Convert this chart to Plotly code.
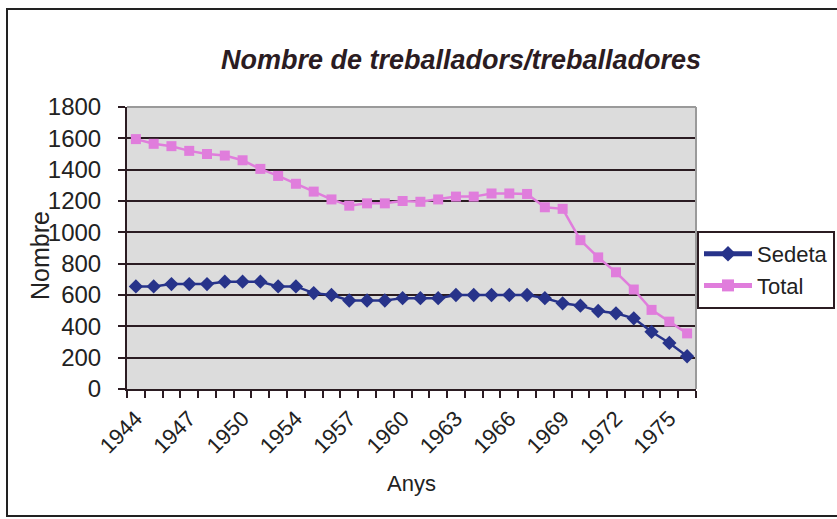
import plotly.graph_objects as go

years = ["1944", "1945", "1946", "1947", "1948", "1949", "1950", "1951",
         "1953", "1954", "1955", "1956", "1957", "1958", "1959", "1960",
         "1961", "1962", "1963", "1964", "1965", "1966", "1967", "1968",
         "1969", "1970", "1971", "1972", "1973", "1974", "1975", "1976"]
label_years = ["1944", "1947", "1950", "1954", "1957", "1960", "1963",
               "1966", "1969", "1972", "1975"]
sedeta = [655, 655, 670, 670, 670, 685, 685, 685, 655, 655, 612, 600,
          565, 565, 565, 580, 580, 580, 600, 600, 600, 600, 600, 580,
          547, 532, 498, 483, 451, 365, 294, 209]
total = [1595, 1565, 1550, 1520, 1500, 1490, 1460, 1405, 1360, 1310, 1260,
         1210, 1170, 1185, 1185, 1200, 1195, 1210, 1228, 1228, 1248, 1248,
         1245, 1160, 1150, 950, 840, 745, 635, 505, 430, 355]

idx = list(range(len(years)))
tick_idx = [years.index(y) for y in label_years]

FONT = "Liberation Sans, Arial, sans-serif"
DARK = "#2b1c22"
TXT = "#222222"

fig = go.Figure()
fig.add_trace(go.Scatter(
    x=idx, y=sedeta, name="Sedeta", mode="lines+markers",
    line=dict(color="#27338a", width=2.5),
    marker=dict(symbol="diamond", size=11, color="#27338a"),
))
fig.add_trace(go.Scatter(
    x=idx, y=total, name="Total", mode="lines+markers",
    line=dict(color="#e07ddc", width=2.5),
    marker=dict(symbol="square", size=10, color="#e07ddc"),
))

W, H = 837, 519
L, R, T, B = 127, 696, 107, 389
pw, ph = R - L, B - T


def px(x):
    return (x - L) / pw


def py(y):
    return (B - y) / ph


fig.update_layout(
    width=W, height=H,
    margin=dict(l=L, r=W - R, t=T, b=H - B, autoexpand=False),
    paper_bgcolor="white",
    plot_bgcolor="#dcdcdc",
    font=dict(family=FONT, color=TXT),
    title=dict(
        text="<b><i>Nombre de treballadors/treballadores</i></b>",
        x=461 / W, xanchor="center", y=1 - 60 / H, yanchor="middle",
        font=dict(size=27, color=DARK, family=FONT),
    ),
    xaxis=dict(
        range=[-0.5, len(years) - 0.5],
        tickvals=tick_idx, ticktext=label_years, tickangle=-45,
        ticks="", showgrid=False, zeroline=False,
        showline=True, linecolor=DARK, linewidth=2,
        tickfont=dict(size=22, color=TXT),
        ticklabelstandoff=6,
        minor=dict(tickvals=[i - 0.5 for i in range(len(years) + 1)],
                   ticks="outside", ticklen=7, tickwidth=2, tickcolor=DARK,
                   showgrid=False),
        title=dict(text="Anys", font=dict(size=22, color=TXT), standoff=18),
    ),
    yaxis=dict(
        range=[0, 1800], dtick=200, tick0=0,
        showgrid=True, gridcolor=DARK, gridwidth=2,
        zeroline=False, showline=True, linecolor=DARK, linewidth=2,
        ticks="outside", ticklen=7, tickwidth=2, tickcolor=DARK,
        tickfont=dict(size=24, color=TXT),
        ticklabelstandoff=12,
    ),
    annotations=[
        dict(text="Nombre", xref="paper", yref="paper",
             x=px(40), y=py(256), xanchor="center", yanchor="middle",
             textangle=-90, showarrow=False,
             font=dict(size=25, color=TXT)),
    ],
    legend=dict(
        x=px(697), y=py(231), xanchor="left", yanchor="top",
        bgcolor="white", bordercolor=DARK, borderwidth=2,
        font=dict(size=22, color=TXT),
        tracegroupgap=0, itemsizing="constant", itemwidth=48,
    ),
    showlegend=True,
    shapes=[
        # outer chart border
        dict(type="rect", xref="paper", yref="paper",
             x0=px(7), x1=px(850), y0=py(516), y1=py(9),
             line=dict(color="#222222", width=2), layer="below"),
        # light top and right edges of plot area
        dict(type="line", xref="paper", yref="paper",
             x0=0, x1=1, y0=1, y1=1,
             line=dict(color="#9a9a9a", width=2), layer="above"),
        dict(type="line", xref="paper", yref="paper",
             x0=1, x1=1, y0=0, y1=1,
             line=dict(color="#9a9a9a", width=2), layer="above"),
    ],
)

fig.write_html(
    "out.html",
    config={"displayModeBar": False},
    post_script="document.body.style.margin='0px';document.body.style.padding='0px';",
)
